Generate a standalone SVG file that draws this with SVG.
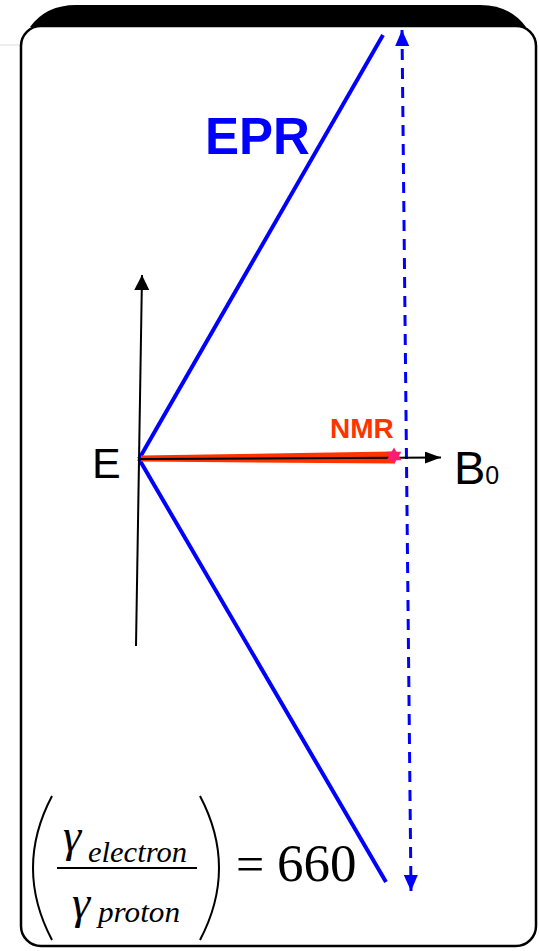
<svg xmlns="http://www.w3.org/2000/svg" width="539" height="951" viewBox="0 0 539 951">
<defs>
<marker id="blkArrow" markerUnits="userSpaceOnUse" markerWidth="15" markerHeight="15" refX="15" refY="7.5" orient="auto"><path d="M0,0 L15,7.5 L0,15 z" fill="#000"/></marker>
<marker id="blkArrowS" markerUnits="userSpaceOnUse" markerWidth="16" markerHeight="12" refX="16" refY="6" orient="auto"><path d="M0,0 L16,6 L0,12 z" fill="#000"/></marker>
<marker id="bluArrow" markerUnits="userSpaceOnUse" markerWidth="16" markerHeight="14" refX="16" refY="7" orient="auto-start-reverse"><path d="M0,0 L16,7 L0,14 z" fill="#0000ff"/></marker>
</defs>
<style>
.blue{stroke:#0000ff;stroke-width:4;fill:none;stroke-linecap:butt}
.axis{stroke:#000;stroke-width:2;fill:none}
.lbl{font-family:"Liberation Sans",Arial,sans-serif;fill:#000}
.math{font-family:"Liberation Serif","Times New Roman",serif;fill:#000}
</style>
<g id="frame">
<line x1="0" y1="45" x2="20" y2="45" stroke="#dddddd" stroke-width="1"/>
<path d="M30,27 Q46,5 76,5 H480 Q510,5 526,27 Z" fill="#000"/>
<rect x="21" y="26" width="515" height="920" rx="20" ry="20" fill="#fff" stroke="#000" stroke-width="2.5"/>
</g>
<g id="connectors">
<line class="blue" x1="139" y1="459" x2="383" y2="35"/>
<line class="blue" x1="139" y1="459" x2="386" y2="882"/>
<line x1="402" y1="30" x2="411" y2="891" stroke="#0000ff" stroke-width="3" stroke-dasharray="11 8" marker-start="url(#bluArrow)" marker-end="url(#bluArrow)"/>
<line class="axis" x1="136" y1="646" x2="142" y2="275" marker-end="url(#blkArrow)"/>
<polygon points="141,455.5 393,451.5 393,463.5 141,461.5" fill="#ff3300"/>
<line class="axis" x1="140" y1="459" x2="441" y2="457.5" marker-end="url(#blkArrowS)"/>
</g>
<g id="star">
<polygon points="394,447.5 401.4,460.3 386.6,460.3" fill="#ff1e6e"/>
<polygon points="394,464.5 386.6,451.7 401.4,451.7" fill="#ff1e6e"/>
</g>
<g id="labels">
<text x="205" y="154" font-family="Liberation Sans,Arial,sans-serif" font-weight="bold" font-size="51" fill="#0000ff">EPR</text>
<text x="330" y="438" font-family="Liberation Sans,Arial,sans-serif" font-weight="bold" font-size="28" fill="#ff3300">NMR</text>
<text class="lbl" x="92" y="478" font-size="43">E</text>
<text class="lbl" x="454" y="484" font-size="47">B<tspan font-size="25">0</tspan></text>
</g>
<g id="formula">
<path d="M52,796 Q14,868 52,940" stroke="#000" stroke-width="2" fill="none"/>
<path d="M200,796 Q238,868 200,940" stroke="#000" stroke-width="2" fill="none"/>
<line x1="57" y1="868" x2="197" y2="868" stroke="#000" stroke-width="2.2"/>
<text class="math" x="63" y="851" font-size="46" font-style="italic">γ</text>
<text class="math" x="88" y="862" font-size="29" font-style="italic" textLength="99" lengthAdjust="spacingAndGlyphs">electron</text>
<text class="math" x="72" y="918" font-size="46" font-style="italic">γ</text>
<text class="math" x="98" y="922" font-size="29" font-style="italic" textLength="82" lengthAdjust="spacingAndGlyphs">proton</text>
<text class="math" x="236" y="881" font-size="50">=</text>
<text class="math" x="277" y="881" font-size="53">660</text>
</g>
</svg>
